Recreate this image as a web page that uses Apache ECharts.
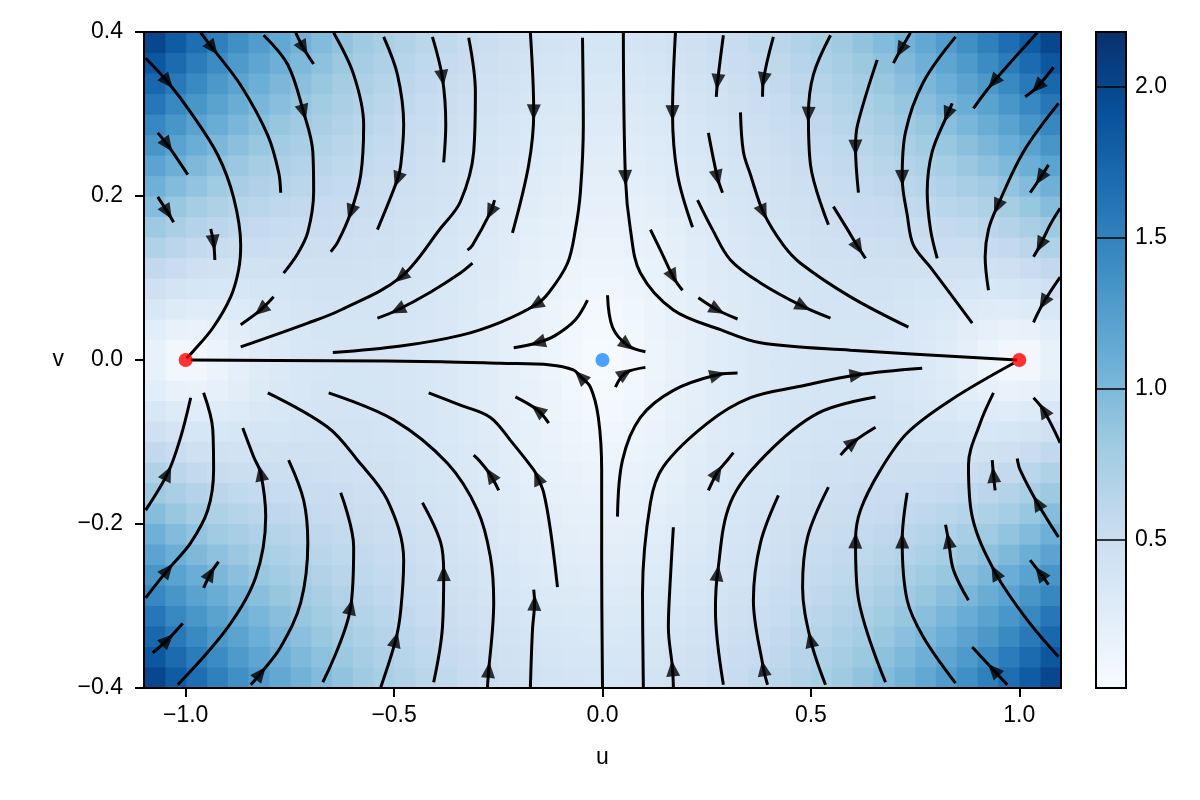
<!DOCTYPE html>
<html><head><meta charset="utf-8">
<script src="https://cdn.jsdelivr.net/npm/echarts@6/dist/echarts.min.js"></script>
<style>html,body{margin:0;padding:0;background:#fff}#c{width:1200px;height:800px}</style>
</head><body><div id="c"></div>
<script>
// ---------------- data ----------------
const uTicks = [-1, -0.5, 0, 0.5, 1];
const vTicks = [-0.4, -0.2, 0, 0.2, 0.4];
const cbTicks = [0.5, 1.0, 1.5, 2.0];
const colorRange = [0.009, 2.181];
const blues = ['#f7fbff','#deebf7','#c6dbef','#9ecae1','#6baed6','#4292c6','#2171b5','#08519c','#08306b'];

// speed magnitude per cell for the quadrant u>0, v>0 (the field is mirror symmetric)
const cellU = [0.025,0.075,0.125,0.175,0.225,0.275,0.325,0.375,0.425,0.475,0.525,0.575,0.625,0.675,0.725,0.775,0.825,0.875,0.925,0.975,1.025,1.075];
const cellV = [0.0125,0.0375,0.0625,0.0875,0.1125,0.1375,0.1625,0.1875,0.2125,0.2375,0.2625,0.2875,0.3125,0.3375,0.3625,0.3875];
const magQuadrant = [
 [0.028,0.076,0.124,0.170,0.214,0.255,0.291,0.323,0.349,0.368,0.381,0.385,0.382,0.368,0.345,0.311,0.266,0.209,0.141,0.070,0.077,0.178],
 [0.045,0.083,0.129,0.174,0.217,0.257,0.294,0.325,0.351,0.371,0.385,0.390,0.388,0.376,0.356,0.326,0.287,0.241,0.193,0.161,0.177,0.250],
 [0.067,0.097,0.138,0.181,0.223,0.263,0.299,0.330,0.357,0.378,0.392,0.399,0.399,0.391,0.376,0.353,0.324,0.293,0.268,0.261,0.287,0.351],
 [0.091,0.115,0.151,0.191,0.232,0.270,0.306,0.338,0.365,0.387,0.403,0.413,0.416,0.413,0.404,0.390,0.374,0.359,0.352,0.363,0.399,0.464],
 [0.115,0.135,0.167,0.204,0.243,0.280,0.316,0.348,0.376,0.400,0.418,0.431,0.438,0.441,0.439,0.435,0.431,0.431,0.441,0.465,0.511,0.582],
 [0.140,0.157,0.185,0.219,0.256,0.293,0.328,0.360,0.389,0.415,0.436,0.452,0.465,0.474,0.480,0.486,0.494,0.508,0.531,0.569,0.625,0.702],
 [0.164,0.179,0.204,0.236,0.271,0.307,0.342,0.375,0.405,0.432,0.456,0.477,0.495,0.511,0.526,0.542,0.561,0.587,0.624,0.673,0.740,0.825],
 [0.189,0.202,0.225,0.255,0.288,0.323,0.358,0.391,0.423,0.453,0.480,0.505,0.529,0.551,0.575,0.601,0.631,0.669,0.717,0.778,0.855,0.949],
 [0.214,0.226,0.247,0.275,0.306,0.341,0.375,0.410,0.443,0.475,0.506,0.536,0.565,0.595,0.627,0.663,0.704,0.753,0.813,0.884,0.971,1.074],
 [0.239,0.249,0.269,0.295,0.326,0.360,0.394,0.430,0.465,0.500,0.534,0.569,0.605,0.642,0.682,0.727,0.779,0.839,0.909,0.992,1.088,1.201],
 [0.264,0.274,0.292,0.317,0.347,0.380,0.415,0.452,0.489,0.527,0.565,0.605,0.647,0.691,0.740,0.794,0.855,0.926,1.007,1.100,1.207,1.329],
 [0.289,0.298,0.315,0.339,0.368,0.402,0.437,0.475,0.514,0.555,0.598,0.643,0.691,0.743,0.800,0.863,0.934,1.014,1.106,1.209,1.326,1.458],
 [0.314,0.322,0.339,0.362,0.391,0.424,0.461,0.500,0.542,0.586,0.633,0.683,0.737,0.797,0.862,0.934,1.014,1.105,1.206,1.320,1.447,1.590],
 [0.339,0.347,0.363,0.386,0.414,0.448,0.485,0.526,0.571,0.618,0.670,0.726,0.786,0.853,0.926,1.007,1.097,1.197,1.308,1.432,1.570,1.722],
 [0.364,0.372,0.387,0.410,0.439,0.473,0.511,0.554,0.601,0.653,0.709,0.770,0.837,0.911,0.992,1.081,1.180,1.290,1.412,1.546,1.694,1.856],
 [0.389,0.396,0.412,0.435,0.464,0.498,0.538,0.583,0.634,0.689,0.750,0.816,0.890,0.971,1.060,1.158,1.266,1.386,1.517,1.661,1.819,1.992]
];

const stableNodes = [[-1, 0], [1, 0]];
const saddlePoints = [[0, 0]];

// streamlines, points in flow order
const streamlines = [
 [[-1.096,0.368],[-1.043,0.339],[-0.988,0.302],[-0.923,0.250],[-0.885,0.198],[-0.868,0.140],[-0.873,0.110],[-0.892,0.077],[-0.935,0.039],[-0.983,0.010],[-0.998,0.002]],
 [[-0.964,0.399],[-0.935,0.380],[-0.868,0.335],[-0.803,0.274],[-0.777,0.229],[-0.772,0.204]],
 [[-1.067,0.277],[-1.043,0.262],[-0.995,0.226]],
 [[-1.067,0.199],[-1.043,0.180],[-1.029,0.168]],
 [[-0.940,0.160],[-0.933,0.143],[-0.930,0.122]],
 [[-0.813,0.396],[-0.755,0.360],[-0.717,0.302],[-0.695,0.254],[-0.693,0.205],[-0.707,0.156],[-0.731,0.130],[-0.765,0.106]],
 [[-0.736,0.399],[-0.717,0.380],[-0.693,0.361]],
 [[-0.645,0.399],[-0.597,0.348],[-0.573,0.287],[-0.580,0.226],[-0.604,0.180],[-0.635,0.144],[-0.652,0.132]],
 [[-0.525,0.394],[-0.492,0.348],[-0.477,0.287],[-0.484,0.238],[-0.492,0.220],[-0.540,0.159]],
 [[-0.408,0.394],[-0.384,0.344],[-0.376,0.287],[-0.381,0.241]],
 [[-0.321,0.393],[-0.305,0.327],[-0.309,0.254],[-0.341,0.193],[-0.388,0.161],[-0.484,0.101],[-0.628,0.061],[-0.707,0.045],[-0.868,0.016]],
 [[-0.789,0.077],[-0.820,0.061],[-0.868,0.043]],
 [[-0.173,0.399],[-0.165,0.302],[-0.177,0.238],[-0.216,0.155]],
 [[-0.259,0.195],[-0.269,0.180],[-0.312,0.140],[-0.324,0.134]],
 [[-0.312,0.118],[-0.341,0.106],[-0.412,0.083],[-0.492,0.061],[-0.540,0.051]],
 [[-0.048,0.393],[-0.046,0.287],[-0.053,0.205],[-0.065,0.159],[-0.084,0.118],[-0.129,0.082],[-0.161,0.067],[-0.245,0.046],[-0.341,0.030],[-0.484,0.017],[-0.647,0.009]],
 [[-0.036,0.073],[-0.065,0.049],[-0.113,0.030],[-0.156,0.021],[-0.213,0.015]],
 [[0.050,0.399],[0.055,0.222],[0.067,0.159],[0.091,0.106],[0.170,0.061],[0.283,0.037],[0.379,0.021],[0.595,0.012],[0.995,0.000]],
 [[0.012,0.079],[0.024,0.040],[0.060,0.018],[0.103,0.010]],
 [[0.175,0.399],[0.168,0.301],[0.180,0.226],[0.216,0.162]],
 [[0.115,0.159],[0.139,0.134],[0.170,0.101],[0.192,0.085]],
 [[0.228,0.195],[0.264,0.159],[0.307,0.122],[0.379,0.094],[0.482,0.065],[0.547,0.051]],
 [[0.230,0.076],[0.276,0.061],[0.324,0.050]],
 [[0.290,0.396],[0.276,0.339],[0.273,0.321]],
 [[0.254,0.277],[0.276,0.222],[0.288,0.204]],
 [[0.331,0.302],[0.338,0.254],[0.355,0.226],[0.386,0.180],[0.434,0.140],[0.475,0.118],[0.595,0.077],[0.734,0.040]],
 [[0.410,0.394],[0.386,0.341],[0.384,0.321]],
 [[0.547,0.396],[0.506,0.348],[0.494,0.299],[0.499,0.238],[0.542,0.165]],
 [[0.554,0.187],[0.588,0.159],[0.614,0.137],[0.631,0.124]],
 [[0.659,0.366],[0.612,0.287],[0.607,0.259],[0.614,0.204]],
 [[0.739,0.399],[0.715,0.378],[0.698,0.362]],
 [[0.847,0.394],[0.770,0.339],[0.727,0.278],[0.719,0.222],[0.731,0.177],[0.746,0.140],[0.787,0.113],[0.887,0.045]],
 [[0.839,0.313],[0.827,0.299],[0.791,0.254],[0.779,0.205],[0.787,0.159],[0.803,0.124]],
 [[1.043,0.399],[0.938,0.339],[0.890,0.307]],
 [[1.082,0.357],[1.043,0.333],[1.014,0.321]],
 [[1.094,0.313],[1.010,0.254],[0.947,0.187],[0.926,0.159],[0.918,0.126],[0.926,0.085]],
 [[1.070,0.238],[1.050,0.222],[1.026,0.204]],
 [[1.098,0.185],[1.074,0.165],[1.050,0.140],[1.034,0.126]],
 [[1.098,0.101],[1.058,0.070],[1.034,0.046]],
 [[0.000,-0.399],[-0.002,-0.244],[-0.002,-0.134],[-0.010,-0.070],[-0.029,-0.033],[-0.053,-0.020],[-0.070,-0.012],[-0.125,-0.006],[-0.245,-0.004],[-0.388,-0.002],[-0.652,-0.001],[-0.988,0.000]],
 [[0.031,-0.033],[0.055,-0.016],[0.103,-0.009]],
 [[-0.129,-0.077],[-0.156,-0.061],[-0.209,-0.045]],
 [[-0.108,-0.277],[-0.125,-0.207],[-0.141,-0.162],[-0.156,-0.143],[-0.165,-0.134],[-0.221,-0.098],[-0.269,-0.070],[-0.341,-0.055],[-0.417,-0.040]],
 [[-0.249,-0.159],[-0.269,-0.140],[-0.297,-0.122],[-0.309,-0.116]],
 [[-0.276,-0.399],[-0.273,-0.378],[-0.264,-0.329],[-0.261,-0.296],[-0.269,-0.240],[-0.300,-0.183],[-0.372,-0.126],[-0.501,-0.073],[-0.657,-0.040]],
 [[-0.173,-0.399],[-0.168,-0.329],[-0.163,-0.296],[-0.165,-0.280]],
 [[0.170,-0.399],[0.168,-0.376],[0.158,-0.326],[0.163,-0.265],[0.170,-0.204]],
 [[0.098,-0.399],[0.096,-0.284],[0.115,-0.174],[0.146,-0.130],[0.252,-0.077],[0.355,-0.046],[0.475,-0.032],[0.612,-0.018],[0.767,-0.010]],
 [[0.036,-0.191],[0.048,-0.122],[0.091,-0.070],[0.170,-0.037],[0.276,-0.018],[0.324,-0.016]],
 [[0.290,-0.396],[0.271,-0.305],[0.276,-0.260],[0.307,-0.174],[0.391,-0.116],[0.516,-0.065],[0.655,-0.045]],
 [[0.254,-0.159],[0.276,-0.137],[0.300,-0.122],[0.314,-0.113]],
 [[0.571,-0.116],[0.602,-0.100],[0.655,-0.082]],
 [[0.679,-0.393],[0.612,-0.284],[0.607,-0.220],[0.619,-0.183],[0.667,-0.134],[0.731,-0.089],[0.835,-0.049],[0.986,-0.004]],
 [[1.094,-0.362],[1.019,-0.317],[0.942,-0.259],[0.887,-0.191],[0.878,-0.128],[0.906,-0.077],[0.938,-0.040]],
 [[1.098,-0.101],[1.058,-0.061],[1.034,-0.046]],
 [[1.094,-0.216],[1.043,-0.174],[1.002,-0.134],[0.995,-0.120]],
 [[0.942,-0.159],[0.938,-0.140],[0.935,-0.122]],
 [[1.070,-0.274],[1.050,-0.260],[1.026,-0.244]],
 [[0.971,-0.396],[0.938,-0.378],[0.887,-0.350]],
 [[0.847,-0.394],[0.770,-0.338],[0.731,-0.293],[0.719,-0.220],[0.731,-0.162]],
 [[0.878,-0.293],[0.842,-0.256],[0.830,-0.220],[0.823,-0.201]],
 [[0.535,-0.396],[0.499,-0.341],[0.480,-0.277],[0.492,-0.216],[0.542,-0.155]],
 [[0.396,-0.396],[0.386,-0.376],[0.362,-0.293],[0.379,-0.223],[0.422,-0.165]],
 [[-1.096,-0.183],[-1.043,-0.138],[-1.012,-0.094],[-0.988,-0.046]],
 [[-1.096,-0.290],[-1.043,-0.256],[-0.988,-0.223],[-0.947,-0.183],[-0.933,-0.134],[-0.935,-0.085],[-0.957,-0.040]],
 [[-1.019,-0.396],[-0.899,-0.326],[-0.832,-0.265],[-0.808,-0.191],[-0.820,-0.138],[-0.837,-0.118],[-0.863,-0.083]],
 [[-0.844,-0.396],[-0.820,-0.382],[-0.772,-0.350],[-0.724,-0.296],[-0.707,-0.223],[-0.717,-0.171],[-0.753,-0.122]],
 [[-0.532,-0.399],[-0.496,-0.341],[-0.484,-0.305],[-0.477,-0.244],[-0.516,-0.171],[-0.588,-0.122],[-0.659,-0.082],[-0.803,-0.040]],
 [[-0.671,-0.393],[-0.604,-0.301],[-0.597,-0.228],[-0.628,-0.162]],
 [[-0.405,-0.393],[-0.384,-0.326],[-0.381,-0.260],[-0.388,-0.223],[-0.432,-0.174]],
 [[-0.957,-0.278],[-0.940,-0.260],[-0.921,-0.246]],
 [[-1.079,-0.357],[-1.043,-0.341],[-1.007,-0.321]]
];
// index of the vertex carrying an arrowhead on each streamline
const arrowAt = [1,1,1,1,1,2,1,4,4,1,5,1,1,1,3,6,3,1,2,1,2,4,1,1,1,3,1,2,2,2,1,3,1,1,1,2,1,2,1,
                 5,1,1,3,1,1,2,1,7,4,2,1,1,2,2,1,1,1,1,1,3,2,1,1,1,1,4,1,1,1,2,1,1];

// ---------------- layout / style ----------------
const FONT = "'Liberation Sans', Arial, sans-serif";
const FS = 23;
const GRID = {left: 144, top: 32, width: 917, height: 656};
const CB = {left: 1096, top: 32, width: 30, height: 656};
const U_RANGE = [-1.1, 1.1], V_RANGE = [-0.4, 0.4];
const SX = GRID.width / (U_RANGE[1] - U_RANGE[0]);
const SY = GRID.height / (V_RANGE[1] - V_RANGE[0]);

function fmt(v) {
  if (Math.abs(v) < 1e-9) return '0.0';
  return (v < 0 ? '\u2212' : '') + Math.abs(v).toFixed(1);
}

// heat cells from the quadrant table, mirrored to the four quadrants
const du = cellU[1] - cellU[0], dv = cellV[1] - cellV[0];
const heatData = [];
cellV.forEach((v, i) => cellU.forEach((u, j) => {
  for (const su of [-1, 1]) for (const sv of [-1, 1]) heatData.push([su * u, sv * v, magQuadrant[i][j]]);
}));

const arrowData = streamlines.map((pts, i) => {
  const k = arrowAt[i];
  const a = pts[Math.max(k - 1, 0)], b = pts[Math.min(k + 1, pts.length - 1)];
  const dx = (b[0] - a[0]) * SX, dyUp = (b[1] - a[1]) * SY;
  const ang = Math.atan2(dyUp, dx) * 180 / Math.PI;
  return {value: pts[k], symbolRotate: ang - 90};
});

const chart = echarts.init(document.getElementById('c'), null, {renderer: 'canvas'});

const series = [];
series.push({
  type: 'custom', xAxisIndex: 0, yAxisIndex: 0, data: heatData, z: 1, silent: true,
  renderItem: (params, api) => {
    const u = api.value(0), v = api.value(1);
    const p1 = api.coord([u - du / 2, v + dv / 2]);
    const p2 = api.coord([u + du / 2, v - dv / 2]);
    return {type: 'rect', shape: {x: p1[0], y: p1[1], width: p2[0] - p1[0] + 0.6, height: p2[1] - p1[1] + 0.6},
            style: {fill: api.visual('color')}};
  }
});
streamlines.forEach(pts => series.push({
  type: 'line', xAxisIndex: 0, yAxisIndex: 0, data: pts, smooth: 0.35, showSymbol: false, symbol: 'none',
  lineStyle: {color: '#000', width: 3}, silent: true, z: 3
}));
series.push({
  type: 'scatter', xAxisIndex: 0, yAxisIndex: 0, data: arrowData, symbol: 'triangle', symbolSize: [14, 16],
  itemStyle: {color: '#000'}, silent: true, z: 4
});
series.push({
  type: 'scatter', xAxisIndex: 0, yAxisIndex: 0, data: stableNodes, symbolSize: 14,
  itemStyle: {color: '#ff0000'}, silent: true, z: 5
});
series.push({
  type: 'scatter', xAxisIndex: 0, yAxisIndex: 0, data: saddlePoints, symbolSize: 14,
  itemStyle: {color: '#1e8cff'}, silent: true, z: 5
});
series.push({
  type: 'custom', xAxisIndex: 2, yAxisIndex: 2, data: [[0, colorRange[0]]], silent: true, z: 2,
  renderItem: (params, api) => {
    const p1 = api.coord([0, colorRange[1]]);
    const p2 = api.coord([1, colorRange[0]]);
    return {type: 'rect', shape: {x: p1[0], y: p1[1], width: p2[0] - p1[0], height: p2[1] - p1[1]},
      style: {fill: new echarts.graphic.LinearGradient(0, 1, 0, 0, blues.map((c, i) => ({offset: i / (blues.length - 1), color: c}))),
              stroke: '#000', lineWidth: 2}};
  }
});

const axisLine = {show: true, onZero: false, lineStyle: {color: '#000', width: 2}};
const labelStyle = {color: '#000', fontSize: FS, fontFamily: FONT};

chart.setOption({
  animation: false,
  backgroundColor: '#fff',
  grid: [
    {left: GRID.left, top: GRID.top, width: GRID.width, height: GRID.height},
    {left: CB.left, top: CB.top, width: CB.width, height: CB.height}
  ],
  visualMap: {show: false, type: 'continuous', seriesIndex: 0, dimension: 2,
              min: colorRange[0], max: colorRange[1], inRange: {color: blues}},
  xAxis: [
    {type: 'value', gridIndex: 0, position: 'bottom', min: U_RANGE[0], max: U_RANGE[1], z: 10,
     axisLine: axisLine, splitLine: {show: false},
     axisTick: {show: true, customValues: uTicks, length: 9, lineStyle: {color: '#000', width: 2}},
     axisLabel: Object.assign({customValues: uTicks, formatter: fmt, margin: 16}, labelStyle),
     name: 'u', nameLocation: 'middle', nameGap: 58, nameTextStyle: labelStyle},
    {type: 'value', gridIndex: 0, position: 'top', min: U_RANGE[0], max: U_RANGE[1], z: 10,
     axisLine: axisLine, axisTick: {show: false}, axisLabel: {show: false}, splitLine: {show: false}},
    {type: 'value', gridIndex: 1, min: 0, max: 1, show: false}
  ],
  yAxis: [
    {type: 'value', gridIndex: 0, position: 'left', min: V_RANGE[0], max: V_RANGE[1], interval: 0.2, z: 10,
     axisLine: axisLine, splitLine: {show: false},
     axisTick: {show: true, length: 9, lineStyle: {color: '#000', width: 2}},
     axisLabel: Object.assign({formatter: fmt, margin: 21}, labelStyle),
     name: 'v', nameLocation: 'middle', nameRotate: 0, nameGap: 80, nameTextStyle: labelStyle},
    {type: 'value', gridIndex: 0, position: 'right', min: V_RANGE[0], max: V_RANGE[1], z: 10,
     axisLine: axisLine, axisTick: {show: false}, axisLabel: {show: false}, splitLine: {show: false}},
    {type: 'value', gridIndex: 1, position: 'right', min: colorRange[0], max: colorRange[1], z: 10,
     axisLine: {show: false, onZero: false}, splitLine: {show: false},
     axisTick: {show: true, inside: true, length: CB.width, customValues: cbTicks, lineStyle: {color: '#000', width: 1.5}},
     axisLabel: Object.assign({customValues: cbTicks, formatter: v => v.toFixed(1), margin: 9}, labelStyle)}
  ],
  series: series
});
</script>
</body></html>
